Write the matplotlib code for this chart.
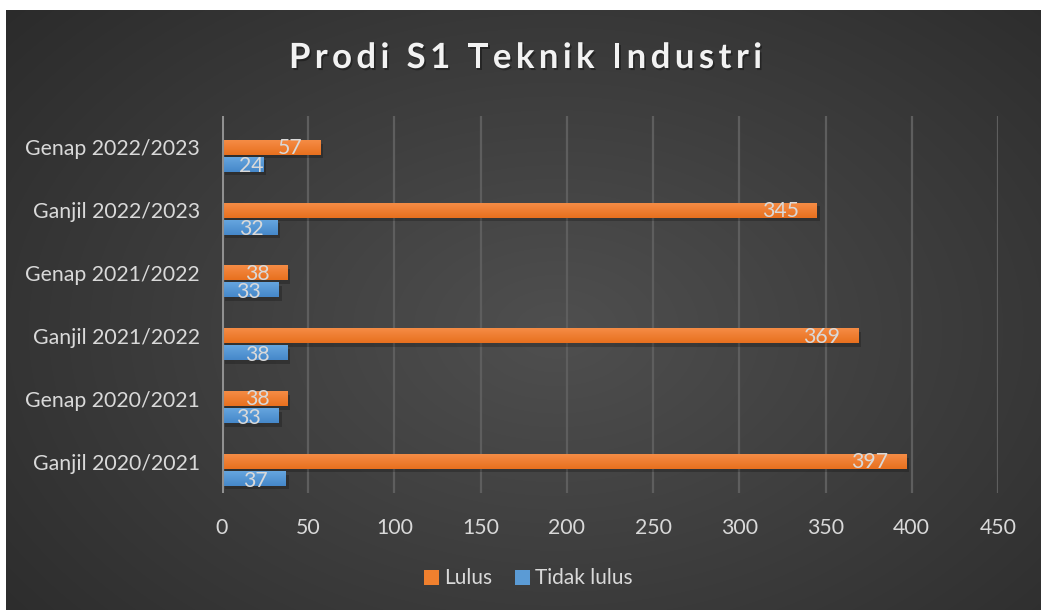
import numpy as np
import matplotlib
matplotlib.use("Agg")
import matplotlib.pyplot as plt
import matplotlib.patheffects as pe

categories = ["Ganjil 2020/2021", "Genap 2020/2021", "Ganjil 2021/2022",
              "Genap 2021/2022", "Ganjil 2022/2023", "Genap 2022/2023"]
lulus = [397, 38, 369, 38, 345, 57]
tidak_lulus = [37, 33, 38, 33, 32, 24]
x_ticks = [0, 50, 100, 150, 200, 250, 300, 350, 400, 450]
title = "Prodi S1 Teknik Industri"

FONT = "Lato"
TXT = "#D9D9D9"
ORANGE_TOP, ORANGE_BOT = "#F58C45", "#E8701F"
BLUE_TOP, BLUE_BOT = "#65A5DE", "#4688CA"

W, H = 1041, 610
fig = plt.figure(figsize=(W / 100, H / 100), dpi=100, facecolor="white")

# radial gradient background
bg = fig.add_axes([6 / W, 0, 1 - 6 / W, 1 - 10 / H])
bg.set_axis_off()
yy, xx = np.mgrid[0:600, 0:1035]
cx, cy = 550, 320
r = np.sqrt(((xx - cx) / 620.0) ** 2 + ((yy - cy) / 420.0) ** 2)
val = 0.31 - 0.15 * np.clip(r, 0, 1.25) / 1.25
bg.imshow(np.dstack([val, val, val]), aspect="auto", origin="upper",
          extent=[0, 1, 0, 1], interpolation="bilinear")
bg.set_xlim(0, 1)
bg.set_ylim(0, 1)

ax_w_px = 998 - 222
ax = fig.add_axes([222 / W, 1 - 493 / H, ax_w_px / W, (493 - 116) / H])
ax.patch.set_alpha(0)
XMAX = 450

y = np.arange(len(categories))
h = 0.235
off = 0.27


def grad_bar(yc, width, top, bot):
    shadow = [pe.SimplePatchShadow(offset=(2, -2.5), shadow_rgbFace="black", alpha=0.22), pe.Normal()]
    b = ax.barh(yc, width, height=h, color=bot, zorder=3)
    b[0].set_path_effects(shadow)
    c1 = np.array(matplotlib.colors.to_rgb(top))
    c2 = np.array(matplotlib.colors.to_rgb(bot))
    t = np.linspace(0, 1, 20)[:, None]
    img = (c1 * (1 - t) + c2 * t)[:, None, :]
    ax.imshow(img, extent=[0, width, yc - h / 2, yc + h / 2], origin="upper",
              aspect="auto", zorder=4, interpolation="bilinear")


def bar_label(v, yc, dy):
    # inside end; if the bar is too short, pin the label near the axis
    bar_px = v * ax_w_px / XMAX
    if bar_px - 17 - 11 * len(str(v)) < 17:
        ax.annotate(str(v), (0, yc), xytext=(12.5, dy), textcoords="offset points",
                    ha="left", va="center", color=TXT, fontsize=15.3, family=FONT, zorder=6)
    else:
        ax.annotate(str(v), (v, yc), xytext=(-13, dy), textcoords="offset points",
                    ha="right", va="center", color=TXT, fontsize=15.3, family=FONT, zorder=6)


for i in range(len(categories)):
    grad_bar(y[i], lulus[i], ORANGE_TOP, ORANGE_BOT)
    grad_bar(y[i] - off, tidak_lulus[i], BLUE_TOP, BLUE_BOT)
    bar_label(lulus[i], y[i], -0.5)
    bar_label(tidak_lulus[i], y[i] - off, -1.5)

ax.set_aspect("auto")
ax.set_xlim(0, XMAX)
ax.set_ylim(-0.5, len(categories) - 0.5)

for xt in x_ticks[1:]:
    ax.axvline(xt, color="#5E5E5E", lw=1.6, zorder=1)
ax.axvline(0, color="#909090", lw=2.2, zorder=5)

ax.set_xticks(x_ticks)
ax.set_xticklabels([str(v) for v in x_ticks])
ax.set_yticks(y)
ax.set_yticklabels(categories)
for lab in ax.get_xticklabels() + ax.get_yticklabels():
    lab.set_family(FONT)
    lab.set_fontsize(15.3)
    lab.set_color(TXT)
ax.tick_params(axis="both", length=0)
ax.tick_params(axis="x", pad=18)
ax.tick_params(axis="y", pad=16)
for s in ax.spines.values():
    s.set_visible(False)

# legend
lx, ly = 424 / W, 1 - 578 / H
fig.patches.append(plt.Rectangle((lx, ly - 7 / H), 15 / W, 15 / H, transform=fig.transFigure,
                                 facecolor="#F0802E", edgecolor="none"))
fig.text(lx + 20 / W, ly, "Lulus", color=TXT, fontsize=15, family=FONT, va="center")
fig.patches.append(plt.Rectangle((515 / W, ly - 7 / H), 15 / W, 15 / H, transform=fig.transFigure,
                                 facecolor="#5B9BD5", edgecolor="none"))
fig.text(535 / W, ly, "Tidak lulus", color=TXT, fontsize=15, family=FONT, va="center")

# title with letter spacing
renderer = fig.canvas.get_renderer()
tsize = 25


def tw(s):
    t = fig.text(0, 0, s, fontsize=tsize, family=FONT, fontweight="bold")
    w = t.get_window_extent(renderer).width
    t.remove()
    return w


ref = tw("x")
xs = [tw(title[:i] + "x") - ref if i > 0 else 0 for i in range(len(title))]
base = tw(title)
target = 762 - 289
sp = (target - base) / (len(title) - 1)
x0 = 289
for i, ch in enumerate(title):
    if ch == " ":
        continue
    fig.text((x0 + xs[i] + i * sp) / W, 1 - 58 / H, ch, fontsize=tsize, family=FONT,
             fontweight="bold", color="#F2F2F2", va="center", ha="left",
             path_effects=[pe.SimplePatchShadow(offset=(1.2, -1.5), shadow_rgbFace="black", alpha=0.35),
                           pe.Normal()])

fig.savefig("out.png", dpi=100, facecolor="white")
